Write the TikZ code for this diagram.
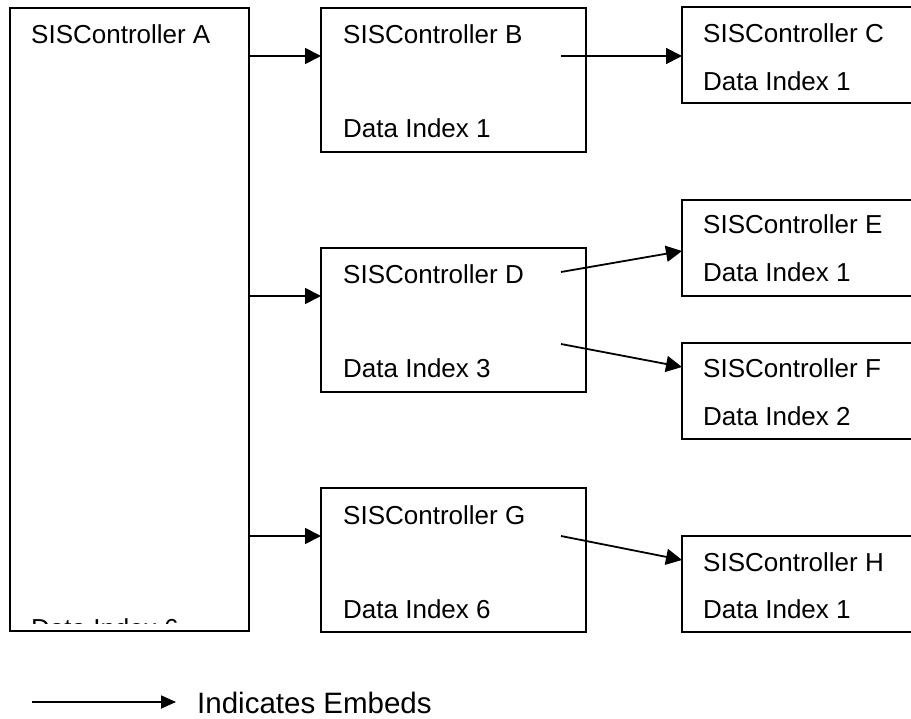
\documentclass[tikz,border=0pt]{standalone}
\usepackage{fontspec}
\setmainfont{Liberation Sans}
\usetikzlibrary{arrows.meta}
\tikzset{
  box/.style={draw, line width=2pt, anchor=north west, inner sep=0pt, outer sep=0pt},
  lbl/.style={anchor=base west, inner sep=0pt, font=\fontsize{26}{31}\selectfont},
  emb/.style={line width=1.8pt, -{Triangle[length=16pt,width=16pt]}},
}
\begin{document}
\begin{tikzpicture}[x=1pt, y=-1pt]
\useasboundingbox (0,0) rectangle (911,719);
\clip (0,0) rectangle (911,719);

% boxes
\node[box, minimum width=239pt, minimum height=623pt] (A) at (10,8) {};
\node[box, minimum width=265pt, minimum height=144pt] (B) at (321,8) {};
\node[box, minimum width=265pt, minimum height=144pt] (D) at (321,248) {};
\node[box, minimum width=265pt, minimum height=144pt] (G) at (321,488) {};
\node[box, minimum width=260pt, minimum height=96pt] (C) at (682,7) {};
\node[box, minimum width=260pt, minimum height=96pt] (E) at (682,200) {};
\node[box, minimum width=260pt, minimum height=96pt] (F) at (682,343) {};
\node[box, minimum width=260pt, minimum height=96pt] (H) at (682,536) {};

% labels
\node[lbl] (tA) at (31,44) {SISController A};
\begin{scope}
  % the lower label of A overflows its text area and is cut off
  \clip (A.north west) rectangle (A.east |- 0,623);
  \node[lbl] (dA) at (31,637) {Data Index 6};
\end{scope}
\node[lbl] (tB) at (343,44) {SISController B};
\node[lbl] (dB) at (343,138) {Data Index 1};
\node[lbl] (tD) at (343,284) {SISController D};
\node[lbl] (dD) at (343,378) {Data Index 3};
\node[lbl] (tG) at (343,524) {SISController G};
\node[lbl] (dG) at (343,618) {Data Index 6};
\node[lbl] (tC) at (703,43) {SISController C};
\node[lbl] (dC) at (703,91) {Data Index 1};
\node[lbl] (tE) at (703,234) {SISController E};
\node[lbl] (dE) at (703,282) {Data Index 1};
\node[lbl] (tF) at (703,378) {SISController F};
\node[lbl] (dF) at (703,425) {Data Index 2};
\node[lbl] (tH) at (703,571) {SISController H};
\node[lbl] (dH) at (703,618) {Data Index 1};

% connector anchor points
\coordinate (pB) at (561,56);
\coordinate (pD1) at (561,272);
\coordinate (pD2) at (561,344);
\coordinate (pG) at (561,536);
\coordinate (inE) at (682,251);
\coordinate (inF) at (682,367);
\coordinate (inH) at (682,560);

% embeds arrows
\draw[emb] (A.east |- pB) -- (B.west |- pB);
\draw[emb] (A.east |- 0,296) -- (D.west |- 0,296);
\draw[emb] (A.east |- pG) -- (G.west |- pG);
\draw[emb] (pB) -- (C.west |- pB);
\draw[emb] (pD1) -- (inE);
\draw[emb] (pD2) -- (inF);
\draw[emb] (pG) -- (inH);

% legend
\coordinate (l0) at (32,702);
\coordinate (l1) at (176,702);
\draw[line width=1.8pt, -{Triangle[length=15pt,width=13pt]}] (l0) -- (l1);
\node[lbl, font=\fontsize{29.5}{35}\selectfont] (leg) at (197,713.5) {Indicates Embeds};
\end{tikzpicture}
\end{document}
